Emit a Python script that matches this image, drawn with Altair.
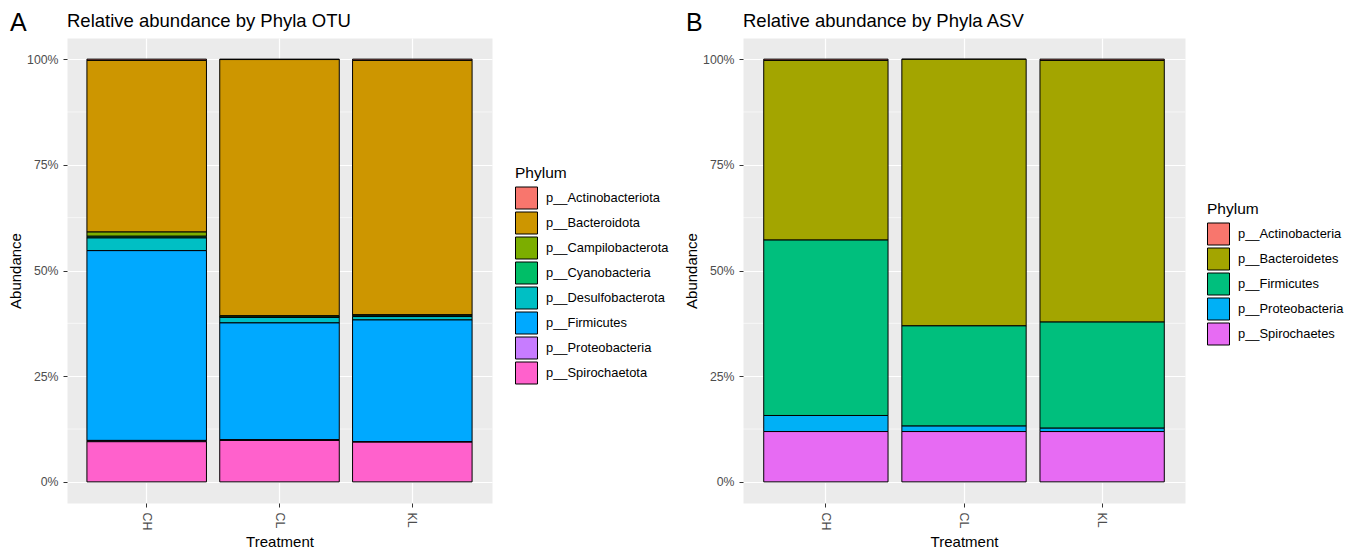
import altair as alt
import pandas as pd

FONT = "Liberation Sans"

treatments = ["CH", "CL", "KL"]

# Panel A (OTU) - percent abundance per treatment (CH, CL, KL)
phyla_otu = ["p__Actinobacteriota", "p__Bacteroidota", "p__Campilobacterota",
             "p__Cyanobacteria", "p__Desulfobacterota", "p__Firmicutes",
             "p__Proteobacteria", "p__Spirochaetota"]
colors_otu = ["#F8766D", "#CD9600", "#7CAE00", "#00BE67", "#00BFC4",
              "#00A9FF", "#C77CFF", "#FF61CC"]
otu_actinobacteriota = [0.3, 0.1, 0.3]
otu_bacteroidota = [40.6, 60.6, 60.2]
otu_campilobacterota = [1.0, 0.3, 0.1]
otu_cyanobacteria = [0.4, 0.1, 0.3]
otu_desulfobacterota = [3.0, 1.3, 0.8]
otu_firmicutes = [44.9, 27.6, 28.8]
otu_proteobacteria = [0.3, 0.2, 0.1]
otu_spirochaetota = [9.5, 9.8, 9.4]

# Panel B (ASV)
phyla_asv = ["p__Actinobacteria", "p__Bacteroidetes", "p__Firmicutes",
             "p__Proteobacteria", "p__Spirochaetes"]
colors_asv = ["#F8766D", "#A3A500", "#00BF7D", "#00B0F6", "#E76BF3"]
asv_actinobacteria = [0.3, 0.05, 0.3]
asv_bacteroidetes = [42.5, 63.05, 61.9]
asv_firmicutes = [41.5, 23.7, 25.1]
asv_proteobacteria = [3.8, 1.3, 0.8]
asv_spirochaetes = [11.9, 11.9, 11.9]

y_ticks = [0, 0.25, 0.5, 0.75, 1.0]
y_minor = [0.125, 0.375, 0.625, 0.875]


def build_df(phyla, series):
    rows = []
    for i, (ph, vals) in enumerate(zip(phyla, series)):
        for t, v in zip(treatments, vals):
            rows.append({"Treatment": t, "Phylum": ph, "Abundance": v / 100.0, "idx": i})
    return pd.DataFrame(rows)


def y_axis():
    return alt.Axis(title="Abundance", values=y_ticks, format=".0%",
                    domain=False, grid=True, gridColor="white", gridWidth=1.2,
                    tickColor="#333333", tickSize=4, labelPadding=5,
                    labelColor="#4D4D4D", labelFontSize=12.3, labelFont=FONT,
                    titleFont=FONT, titleFontSize=15, titleFontWeight="normal",
                    titleColor="black", titlePadding=3)


def panel(phyla, colors, series, title, tag, width, leg_x, leg_y):
    df = build_df(phyla, series)
    yscale = alt.Scale(domain=[-0.05, 1.05], nice=False, zero=False)
    xscale = alt.Scale(domain=treatments, paddingInner=0.1, paddingOuter=0.15)

    minor = alt.Chart(pd.DataFrame({"v": y_minor})).mark_rule(
        color="white", strokeWidth=0.6
    ).encode(y=alt.Y("v:Q", scale=yscale, axis=y_axis()))

    bars = alt.Chart(df).mark_bar(stroke="black", strokeWidth=1, opacity=1).encode(
        x=alt.X("Treatment:N", scale=xscale, sort=treatments,
                axis=alt.Axis(title="Treatment", labelAngle=90, labelAlign="left",
                              labelBaseline="middle", bandPosition=0.5,
                              domain=False, grid=True, gridColor="white", gridWidth=1.2,
                              tickColor="#333333", tickSize=4, labelPadding=5,
                              labelColor="#4D4D4D", labelFontSize=12.3, labelFont=FONT,
                              titleFont=FONT, titleFontSize=15, titleFontWeight="normal",
                              titleColor="black", titlePadding=5)),
        y=alt.Y("Abundance:Q", stack="zero", scale=yscale, axis=y_axis()),
        color=alt.Color("Phylum:N", scale=alt.Scale(domain=phyla, range=colors),
                        legend=alt.Legend(title="Phylum", orient="none",
                                          legendX=leg_x, legendY=leg_y,
                                          symbolType="square", symbolSize=484,
                                          symbolStrokeColor="black", symbolStrokeWidth=1,
                                          symbolOpacity=1,
                                          labelFont=FONT, labelFontSize=12.9,
                                          labelColor="black", labelOffset=8,
                                          titleFont=FONT, titleFontSize=15.5,
                                          titleFontWeight="normal", titleColor="black",
                                          titlePadding=5, rowPadding=-3)),
        order=alt.Order("idx:Q", sort="descending"),
    )

    tag_layer = alt.Chart(pd.DataFrame({"tag": [tag]})).mark_text(
        font=FONT, fontSize=25, align="left", baseline="alphabetic", color="black"
    ).encode(text="tag:N", x=alt.value(-57), y=alt.value(-7))

    return alt.layer(minor, bars, tag_layer).properties(
        width=width, height=465,
        title=alt.TitleParams(title, anchor="start", frame="group", font=FONT,
                              fontSize=18.5, fontWeight="normal", color="black",
                              offset=-19),
    )


chart_a = panel(phyla_otu, colors_otu,
                [otu_actinobacteriota, otu_bacteroidota, otu_campilobacterota,
                 otu_cyanobacteria, otu_desulfobacterota, otu_firmicutes,
                 otu_proteobacteria, otu_spirochaetota],
                "Relative abundance by Phyla OTU", "A", 425, 448, 128)
chart_b = panel(phyla_asv, colors_asv,
                [asv_actinobacteria, asv_bacteroidetes, asv_firmicutes,
                 asv_proteobacteria, asv_spirochaetes],
                "Relative abundance by Phyla ASV", "B", 442, 464, 164)

chart = alt.hconcat(chart_a, chart_b, spacing=14).resolve_scale(
    color="independent", x="independent", y="independent"
).properties(
    padding={"left": 8, "top": 10, "right": 0, "bottom": 0},
    background="white",
).configure_view(fill="#EBEBEB", stroke="transparent")

chart.save("out.html", embed_options={"renderer": "svg", "actions": False})
